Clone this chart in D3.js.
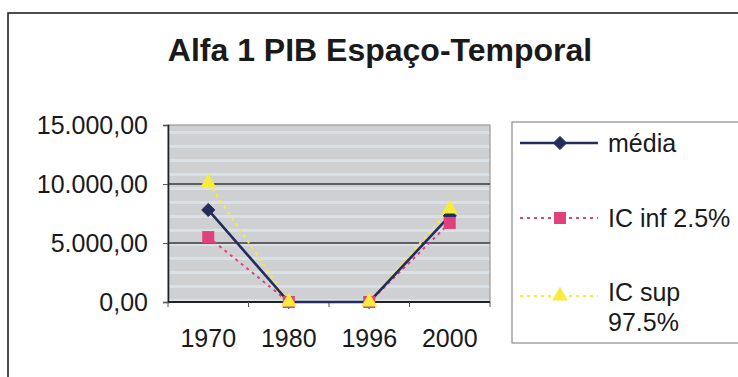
<!DOCTYPE html>
<html>
<head>
<meta charset="utf-8">
<script src="https://cdn.jsdelivr.net/npm/d3@7"></script>
<style>
  html, body { margin: 0; padding: 0; background: #fff; }
  svg { display: block; font-family: "Liberation Sans", Arial, sans-serif; }
</style>
</head>
<body>
<svg id="chart" width="738" height="377"></svg>
<script>
const title = "Alfa 1 PIB Espaço-Temporal";
const categories = ["1970", "1980", "1996", "2000"];
const media = [7800, 0, 0, 7300];
const icInf = [5500, 0, 0, 6700];
const icSup = [10100, 0, 0, 7900];
const yTicks = [0, 5000, 10000, 15000];
const seriesNames = ["média", "IC inf 2.5%", "IC sup 97.5%"];

const ptBR = d3.formatLocale({decimal: ",", thousands: ".", grouping: [3], currency: ["R$", ""]});
const fmt = ptBR.format(",.2f");

const svg = d3.select("#chart");

// outer chart frame
svg.append("rect").attr("x", 8).attr("y", 13).attr("width", 760).attr("height", 400)
  .attr("fill", "#fff").attr("stroke", "#222").attr("stroke-width", 1.6);

// title
svg.append("text").attr("x", 380).attr("y", 61).attr("text-anchor", "middle")
  .attr("font-size", 32).attr("font-weight", "bold").attr("fill", "#1a1a1a").text(title);

const x = d3.scaleBand().domain(categories).range([168, 490]);
const y = d3.scaleLinear().domain([0, 15000]).range([302, 125]);

// plot background with faint banding
const defs = svg.append("defs");
const pat = defs.append("pattern").attr("id", "bg").attr("patternUnits", "userSpaceOnUse")
  .attr("width", 8).attr("height", 14);
pat.append("rect").attr("width", 8).attr("height", 14).attr("fill", "#cfd0d2");
pat.append("rect").attr("y", 5).attr("width", 8).attr("height", 3).attr("fill", "#d9e0e6");

svg.append("rect").attr("x", 168).attr("y", 125).attr("width", 322).attr("height", 177)
  .attr("fill", "url(#bg)").attr("stroke", "#9a9a9a").attr("stroke-width", 1.2);

// gridlines
svg.append("g").selectAll("line").data(yTicks.filter(d => d > 0 && d < 15000)).join("line")
  .attr("x1", 168).attr("x2", 490).attr("y1", d => y(d)).attr("y2", d => y(d))
  .attr("stroke", "#3a3a3a").attr("stroke-width", 1.6);

// y axis
const yAxis = svg.append("g").attr("transform", "translate(168,0)")
  .call(d3.axisLeft(y).tickValues(yTicks).tickFormat(fmt).tickSize(5).tickPadding(15));
yAxis.select(".domain").attr("stroke", "#222").attr("stroke-width", 1.6);
yAxis.selectAll(".tick line").attr("stroke", "#555");
yAxis.selectAll("text").attr("font-size", 25).attr("fill", "#1a1a1a")
  .attr("font-family", "'Liberation Sans', Arial, sans-serif");

// x axis: ticks at category boundaries
const xAxisG = svg.append("g").attr("transform", "translate(0,302)");
xAxisG.append("line").attr("x1", 168).attr("x2", 490).attr("stroke", "#222").attr("stroke-width", 1.8);
const bounds = categories.map(c => x(c)).concat([x(categories[categories.length - 1]) + x.bandwidth()]);
xAxisG.selectAll("line.tk").data(bounds).join("line").attr("class", "tk")
  .attr("x1", d => d).attr("x2", d => d).attr("y1", 0).attr("y2", 5).attr("stroke", "#555");
xAxisG.selectAll("text").data(categories).join("text")
  .attr("x", d => x(d) + x.bandwidth() / 2).attr("y", 45).attr("text-anchor", "middle")
  .attr("font-size", 25).attr("fill", "#1a1a1a").text(d => d);

const cx = d => x(d) + x.bandwidth() / 2;
const line = d3.line().x(d => cx(d.c)).y(d => y(d.v));
const toPts = arr => categories.map((c, i) => ({c, v: arr[i]}));

const series = [
  {name: seriesNames[2], data: icSup, color: "#f5ec3c", marker: "tri", dash: "3,4", width: 2},
  {name: seriesNames[1], data: icInf, color: "#e0407c", marker: "sq", dash: "3,4", width: 2},
  {name: seriesNames[0], data: media, color: "#232c5c", marker: "dia", dash: null, width: 2.6}
];

function marker(g, type, color, px, py) {
  if (type === "dia") {
    g.append("path").attr("d", d3.symbol(d3.symbolDiamond2, 110)())
      .attr("transform", `translate(${px},${py}) rotate(0)`).attr("fill", color).attr("stroke", color);
  } else if (type === "sq") {
    g.append("rect").attr("x", px - 6).attr("y", py - 6).attr("width", 12).attr("height", 12)
      .attr("fill", color);
  } else {
    g.append("path").attr("d", d3.symbol(d3.symbolTriangle, 110)())
      .attr("transform", `translate(${px},${py})`).attr("fill", color);
  }
}

const plotG = svg.append("g");
// draw lines: sup, inf, media
series.forEach(s => {
  plotG.append("path").datum(toPts(s.data)).attr("d", line).attr("fill", "none")
    .attr("stroke", s.color).attr("stroke-width", s.width)
    .attr("stroke-dasharray", s.dash);
});
// markers: media first, then inf, then sup on top (as in reference)
[series[2], series[1], series[0]].forEach(s => {
  toPts(s.data).forEach(p => marker(plotG, s.marker, s.color, cx(p.c), y(p.v)));
});

// legend
const lg = svg.append("g");
lg.append("rect").attr("x", 512).attr("y", 122).attr("width", 240).attr("height", 221)
  .attr("fill", "#fff").attr("stroke", "#8a8a8a").attr("stroke-width", 1.2);
const legendRows = [
  {s: series[2], y: 143, lines: [seriesNames[0]]},
  {s: series[1], y: 218, lines: [seriesNames[1]]},
  {s: series[0], y: 296, lines: ["IC sup", "97.5%"], ty: 292}
];
legendRows.forEach(r => {
  lg.append("line").attr("x1", 520).attr("x2", 598).attr("y1", r.y).attr("y2", r.y)
    .attr("stroke", r.s.color).attr("stroke-width", r.s.width).attr("stroke-dasharray", r.s.dash);
  marker(lg, r.s.marker, r.s.color, 560, r.y);
  const t = lg.append("text").attr("x", 608).attr("y", (r.ty || r.y) + 9).attr("font-size", 25).attr("fill", "#1a1a1a");
  r.lines.forEach((ln, i) => t.append("tspan").attr("x", 608).attr("dy", i === 0 ? 0 : 30).text(ln));
});
</script>
</body>
</html>
